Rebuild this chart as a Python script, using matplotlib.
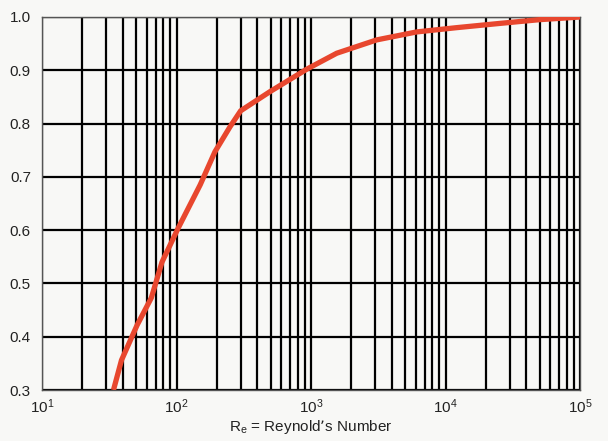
import numpy as np
import matplotlib.pyplot as plt
from matplotlib.ticker import LogLocator, NullFormatter

plt.rcParams['font.family'] = ['Liberation Sans', 'DejaVu Sans']

# curve
reynolds = [34, 39, 51, 65, 78, 103, 150, 193, 250, 300, 496, 929, 1553, 3075, 6110, 12100, 25400, 50000, 100000]
factor = [0.30, 0.356, 0.422, 0.473, 0.54, 0.604, 0.685, 0.747, 0.794, 0.824, 0.860, 0.902, 0.932, 0.957, 0.972, 0.980, 0.988, 0.995, 1.0]

bg = '#f8f8f6'
fig = plt.figure(figsize=(6.08, 4.41), dpi=100, facecolor=bg)
ax = fig.add_axes([42 / 608, 1 - 390 / 441, 538 / 608, 373 / 441])
ax.set_facecolor(bg)

ax.set_xscale('log')
ax.set_xlim(10, 1e5)
ax.set_ylim(0.3, 1.0)
ax.set_yticks([0.3, 0.4, 0.5, 0.6, 0.7, 0.8, 0.9, 1.0])
ax.set_yticklabels(['0.3', '0.4', '0.5', '0.6', '0.7', '0.8', '0.9', '1.0'])
ax.xaxis.set_minor_locator(LogLocator(base=10, subs=np.arange(2, 10)))
ax.xaxis.set_minor_formatter(NullFormatter())

ax.grid(True, which='both', axis='x', color='black', lw=1.6)
ax.grid(True, which='major', axis='y', color='black', lw=1.6)
ax.set_axisbelow(True)

ax.plot(reynolds, factor, color='#e8472e', lw=3.8, solid_capstyle='butt', solid_joinstyle='round', zorder=3)

ax.tick_params(which='both', length=0, labelsize=11, colors='#222222')
ax.tick_params(axis='y', pad=8)
ax.tick_params(axis='x', pad=5)
for s in ax.spines.values():
    s.set_color('#555555')
    s.set_linewidth(1.0)

ax.set_xlabel("R$_\\mathregular{e}$ = Reynold\u2019s Number", fontsize=11, color='#222222', labelpad=2)

plt.savefig('out.png', dpi=100, facecolor=bg)
